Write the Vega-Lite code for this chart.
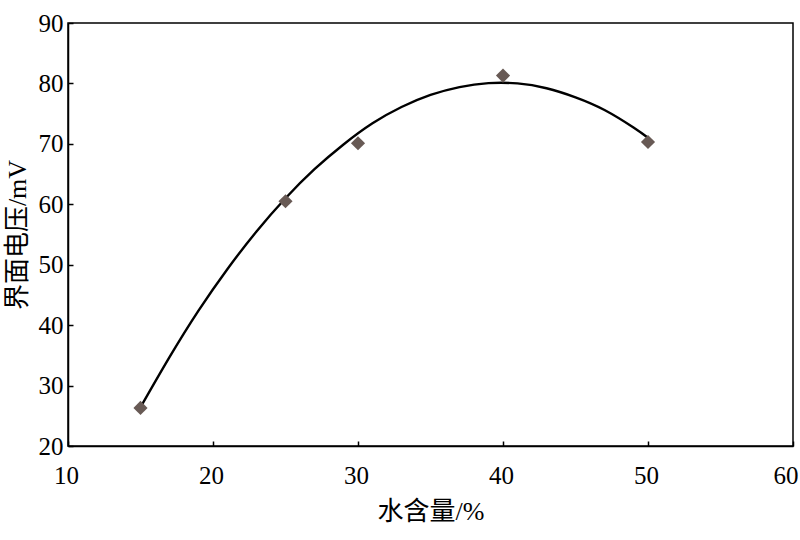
{
  "$schema": "https://vega.github.io/schema/vega-lite/v6.json",
  "autosize": "none",
  "width": 725,
  "height": 423,
  "padding": {"left": 68, "top": 23, "right": 7, "bottom": 94},
  "background": "white",
  "config": {
    "view": {"stroke": "black", "strokeWidth": 1.5},
    "axis": {
      "domainColor": "black",
      "domainWidth": 1.5,
      "tickColor": "black",
      "tickWidth": 1.5,
      "tickSize": -5,
      "grid": false,
      "labelColor": "black",
      "titleFont": "Liberation Serif, Noto Sans CJK SC",
      "titleFontSize": 26,
      "titleFontWeight": "normal",
      "titleColor": "black"
    }
  },
  "datasets": {
    "points": [
      {"x": 15, "y": 26.3},
      {"x": 25, "y": 60.5},
      {"x": 30, "y": 70.1},
      {"x": 40, "y": 81.3},
      {"x": 50, "y": 70.3}
    ],
    "curve": [
      {"x": 15, "y": 26.4},
      {"x": 17, "y": 34.7},
      {"x": 19, "y": 42.4},
      {"x": 21, "y": 49.3},
      {"x": 23, "y": 55.5},
      {"x": 25, "y": 61.0},
      {"x": 27, "y": 65.8},
      {"x": 29, "y": 69.9},
      {"x": 31, "y": 73.4},
      {"x": 33, "y": 76.1},
      {"x": 35, "y": 78.1},
      {"x": 37, "y": 79.4},
      {"x": 39, "y": 80.05},
      {"x": 41, "y": 80.0},
      {"x": 43, "y": 79.2},
      {"x": 45, "y": 77.7},
      {"x": 47, "y": 75.6},
      {"x": 49, "y": 72.7},
      {"x": 50, "y": 71.0}
    ]
  },
  "layer": [
    {
      "data": {"name": "curve"},
      "mark": {"type": "line", "color": "black", "strokeWidth": 2.4, "interpolate": "natural"},
      "encoding": {
        "x": {"field": "x", "type": "quantitative", "scale": {"domain": [10, 60], "nice": false},
          "axis": {"title": "水含量/%", "values": [10, 20, 30, 40, 50, 60], "labelPadding": 22, "titlePadding": 10, "labelFlush": false,
            "labelFont": "Liberation Serif", "labelFontSize": 25,
            "labelAlign": {"condition": {"test": "datum.value == 60", "value": "right"}, "value": "center"},
            "labelOffset": {"condition": {"test": "datum.value == 60", "value": 5}, "value": -2}}},
        "y": {"field": "y", "type": "quantitative", "scale": {"domain": [20, 90], "nice": false, "zero": false},
          "axis": {"title": "界面电压/mV", "values": [20, 30, 40, 50, 60, 70, 80, 90], "labelPadding": 10, "titlePadding": 8, "labelFlush": false,
            "labelFont": "Liberation Serif", "labelFontSize": 25}}
      }
    },
    {
      "data": {"name": "points"},
      "mark": {"type": "point", "shape": "diamond", "filled": true, "color": "#685a55", "size": 200, "opacity": 1},
      "encoding": {
        "x": {"field": "x", "type": "quantitative"},
        "y": {"field": "y", "type": "quantitative"}
      }
    }
  ]
}
